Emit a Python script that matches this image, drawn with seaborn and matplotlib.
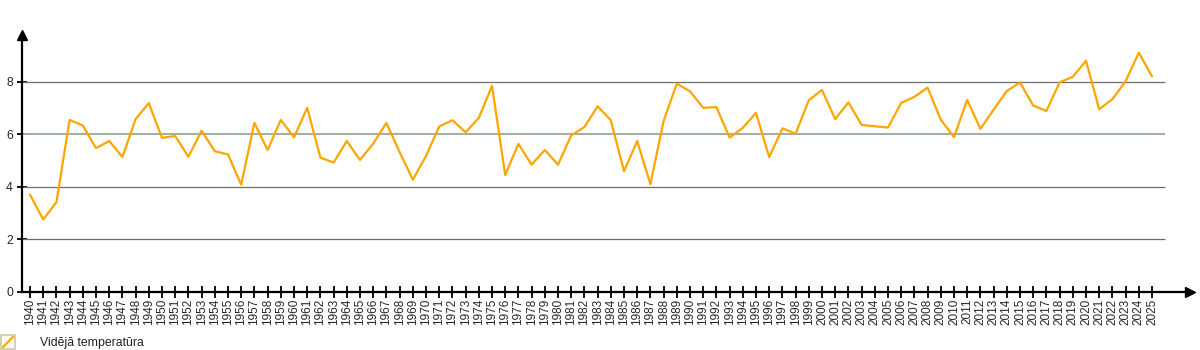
import matplotlib
matplotlib.use("Agg")
import matplotlib.pyplot as plt
from matplotlib.patches import Rectangle
from matplotlib.lines import Line2D
import seaborn as sns
import pandas as pd

years = list(range(1940, 2026))
temperature = [
    3.70, 2.76, 3.41, 6.54, 6.33, 5.47, 5.74, 5.13, 6.57, 7.18,
    5.86, 5.93, 5.14, 6.13, 5.35, 5.23, 4.08, 6.43, 5.40, 6.54,
    5.88, 7.00, 5.11, 4.92, 5.74, 5.02, 5.64, 6.43, 5.32, 4.27,
    5.17, 6.29, 6.53, 6.07, 6.62, 7.84, 4.45, 5.63, 4.84, 5.40,
    4.84, 5.95, 6.27, 7.06, 6.53, 4.59, 5.74, 4.10, 6.50, 7.92,
    7.63, 7.00, 7.03, 5.87, 6.24, 6.81, 5.13, 6.22, 6.02, 7.29,
    7.68, 6.57, 7.21, 6.35, 6.30, 6.25, 7.19, 7.42, 7.77, 6.55,
    5.89, 7.30, 6.20, 6.93, 7.64, 7.97, 7.09, 6.88, 7.97, 8.18,
    8.79, 6.95, 7.33, 8.01, 9.10, 8.20,
]
y_ticks = [0, 2, 4, 6, 8]
series_label = "Vidējā temperatūra"

sns.set_style("white")
plt.rcParams["font.family"] = ["Liberation Sans", "DejaVu Sans"]

W, H = 1200, 350
fig = plt.figure(figsize=(W / 100, H / 100), dpi=100)
ax = fig.add_axes([22 / W, 58 / H, (1190 - 22) / W, (292 - 35) / H])

px = 13.2
x0 = years[0] - 8 / px
x1 = years[-1] + 38 / px
ax.set_xlim(x0, x1)
ax.set_ylim(0, 9.77)

grid_end = years[-1] + 13 / px
for t in y_ticks[1:]:
    col = "#9fae9f" if t == 6 else "#6e6e6e"
    lw = 1.4 if t == 6 else 0.9
    ax.hlines(t, x0, grid_end, color=col, linewidth=lw, zorder=1)

df = pd.DataFrame({"year": years, "temp": temperature})
sns.lineplot(data=df, x="year", y="temp", ax=ax, color="#FFA500",
             linewidth=1.6, zorder=3, legend=False)

ax.set_xlabel("")
ax.set_ylabel("")
for s in ["top", "right"]:
    ax.spines[s].set_visible(False)
for s in ["left", "bottom"]:
    ax.spines[s].set_color("black")
    ax.spines[s].set_linewidth(1.6)
    ax.spines[s].set_zorder(4)

# arrows
ax.plot(1, 0, ">", color="black", markersize=7, transform=ax.transAxes,
        clip_on=False, zorder=5)
ax.plot(0, 1, "^", color="black", markersize=7, transform=ax.transAxes,
        clip_on=False, zorder=5)

ax.set_xticks(years)
ax.set_xticklabels([str(y) for y in years], rotation=90, fontsize=8.5)
ax.set_yticks(y_ticks)
ax.set_yticklabels([str(t) for t in y_ticks], fontsize=8.8)
ax.tick_params(axis="x", direction="inout", length=8, width=1.3, color="black",
               pad=1, bottom=True)
ax.tick_params(axis="y", direction="inout", length=7, width=1.3, color="black",
               pad=3, left=True)

# legend
fig.add_artist(Rectangle((1 / W, (H - 349) / H), 14 / W, 14 / H,
                         transform=fig.transFigure, facecolor="white",
                         edgecolor="#c9c9a0", linewidth=1.2))
fig.add_artist(Line2D([3 / W, 13 / W], [(H - 347) / H, (H - 337) / H],
                      transform=fig.transFigure, color="#FFA500", linewidth=1.6))
fig.text(40 / W, (H - 343) / H, series_label, fontsize=8.8, va="center",
         ha="left", color="#222222")

fig.savefig("out.png", dpi=100)
